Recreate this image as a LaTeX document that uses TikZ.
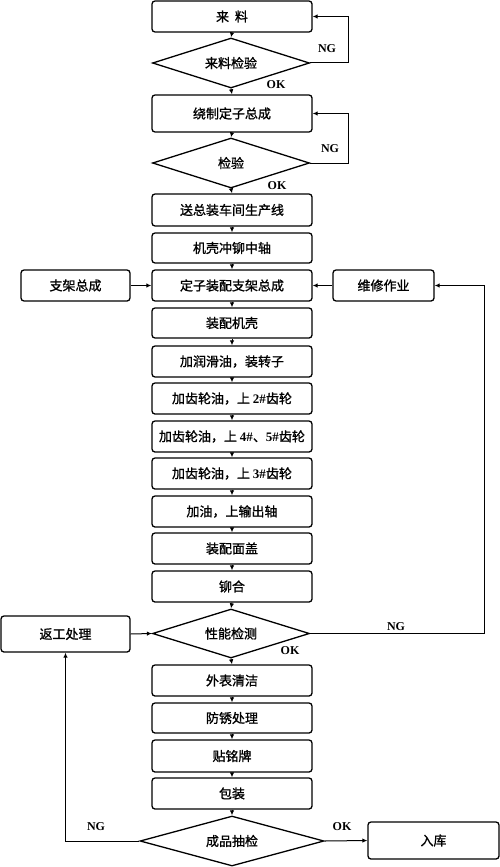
\documentclass[tikz,border=0pt]{standalone}
\usepackage{fontspec}
\setmainfont{Liberation Serif}
\newfontfamily\cjk[FakeBold=1.2]{Noto Sans CJK SC}
\usetikzlibrary{shapes.geometric,arrows.meta}
\tikzset{
  x=1pt,y=-1pt,
  box/.style={draw,rounded corners=3pt,line width=1.3pt,minimum width=160pt,minimum height=31pt,inner sep=0pt,font=\cjk\fontsize{13}{15}\selectfont},
  dia/.style={draw,diamond,aspect=3,line width=1.3pt,minimum width=157pt,minimum height=50pt,inner sep=0pt,font=\cjk\fontsize{13}{15}\selectfont},
  arr/.style={line width=1pt,-{Latex[length=5pt,width=4.5pt]}},
  lab/.style={font=\rmfamily\bfseries\fontsize{12}{14}\selectfont,inner sep=0pt}
}
\newcommand{\lt}[1]{{\rmfamily\bfseries #1}}
\begin{document}
\begin{tikzpicture}
\useasboundingbox[fill=white] (0,0) rectangle (500,867);
\node[box] (b1) at (232,16.5) {来\ \ 料};
\node[dia] (d1) at (231,63) {来料检验};
\node[box,minimum height=37pt] (b2) at (232,113.5) {绕制定子总成};
\node[dia] (d2) at (231,163) {检验};
\node[box,minimum height=32pt] (b3) at (232,210) {送总装车间生产线};
\node[box,minimum height=30pt] (b4) at (232,248) {机壳冲铆中轴};
\node[box] (b5) at (232,285.5) {定子装配支架总成};
\node[box,minimum height=30pt] (b6) at (232,323) {装配机壳};
\node[box] (b7) at (232,361.5) {加润滑油，装转子};
\node[box] (b8) at (232,398.5) {加齿轮油，上 \lt{2\#}齿轮};
\node[box] (b9) at (232,436.5) {加齿轮油，上 \lt{4\#}、\lt{5\#}齿轮};
\node[box] (b10) at (232,473.5) {加齿轮油，上 \lt{3\#}齿轮};
\node[box] (b11) at (232,511.5) {加油，上输出轴};
\node[box] (b12) at (232,548.5) {装配面盖};
\node[box] (b13) at (232,586.5) {铆合};
\node[dia,minimum height=49pt] (d3) at (231,633.5) {性能检测};
\node[box] (b14) at (232,680.5) {外表清洁};
\node[box,minimum height=30pt] (b15) at (232,718) {防锈处理};
\node[box,minimum height=32pt] (b16) at (232,756) {贴铭牌};
\node[box] (b17) at (232,793.5) {包装};
\node[dia,minimum width=184pt,minimum height=50pt] (d4) at (232,841) {成品抽检};
\node[box,minimum width=109pt] (zj) at (75.5,285.5) {支架总成};
\node[box,minimum width=101pt] (wx) at (383.5,285.5) {维修作业};
\node[box,minimum width=129pt,minimum height=36pt] (fg) at (65.5,634) {返工处理};
\node[box,minimum width=131pt,minimum height=37pt] (rk) at (433.5,840.5) {入库};
\coordinate (c1) at (348,63);
\coordinate (c2) at (348,163);
\coordinate (c3) at (484,633.5);
% main chain
\draw[arr] (b1.south) -- (d1.north);
\draw[arr] (d1.south) -- (b2.north);
\draw[arr] (b2.south) -- (d2.north);
\draw[arr] (d2.south) -- (b3.north);
\draw[arr] (b3.south) -- (b4.north);
\draw[arr] (b4.south) -- (b5.north);
\draw[arr] (b5.south) -- (b6.north);
\draw[arr] (b6.south) -- (b7.north);
\draw[arr] (b7.south) -- (b8.north);
\draw[arr] (b8.south) -- (b9.north);
\draw[arr] (b9.south) -- (b10.north);
\draw[arr] (b10.south) -- (b11.north);
\draw[arr] (b11.south) -- (b12.north);
\draw[arr] (b12.south) -- (b13.north);
\draw[arr] (b13.south) -- (d3.north);
\draw[arr] (d3.south) -- (b14.north);
\draw[arr] (b14.south) -- (b15.north);
\draw[arr] (b15.south) -- (b16.north);
\draw[arr] (b16.south) -- (b17.north);
\draw[arr] (b17.south) -- (d4.north);
% loops
\draw[arr] (d1.east) -- (c1) |- (b1.east);
\draw[arr] (d2.east) -- (c2) |- (b2.east);
\draw[arr] (zj.east) -- (b5.west);
\draw[arr] (wx.west) -- (b5.east);
\draw[arr] (d3.east) -- (c3) |- (wx.east);
\draw[arr] (fg.east) -- (d3.west);
\draw[arr] (d4.west) -| (fg.south);
\draw[arr] (d4.east) -- (rk.west);
% labels
\node[lab] (n1) at (327,49) {NG};
\node[lab] (o1) at (276,85) {OK};
\node[lab] (n2) at (330,149) {NG};
\node[lab] (o2) at (277,186) {OK};
\node[lab] (n3) at (396,627) {NG};
\node[lab] (o3) at (290,651) {OK};
\node[lab] (n4) at (96,827) {NG};
\node[lab] (o4) at (342,827) {OK};
\end{tikzpicture}
\end{document}
